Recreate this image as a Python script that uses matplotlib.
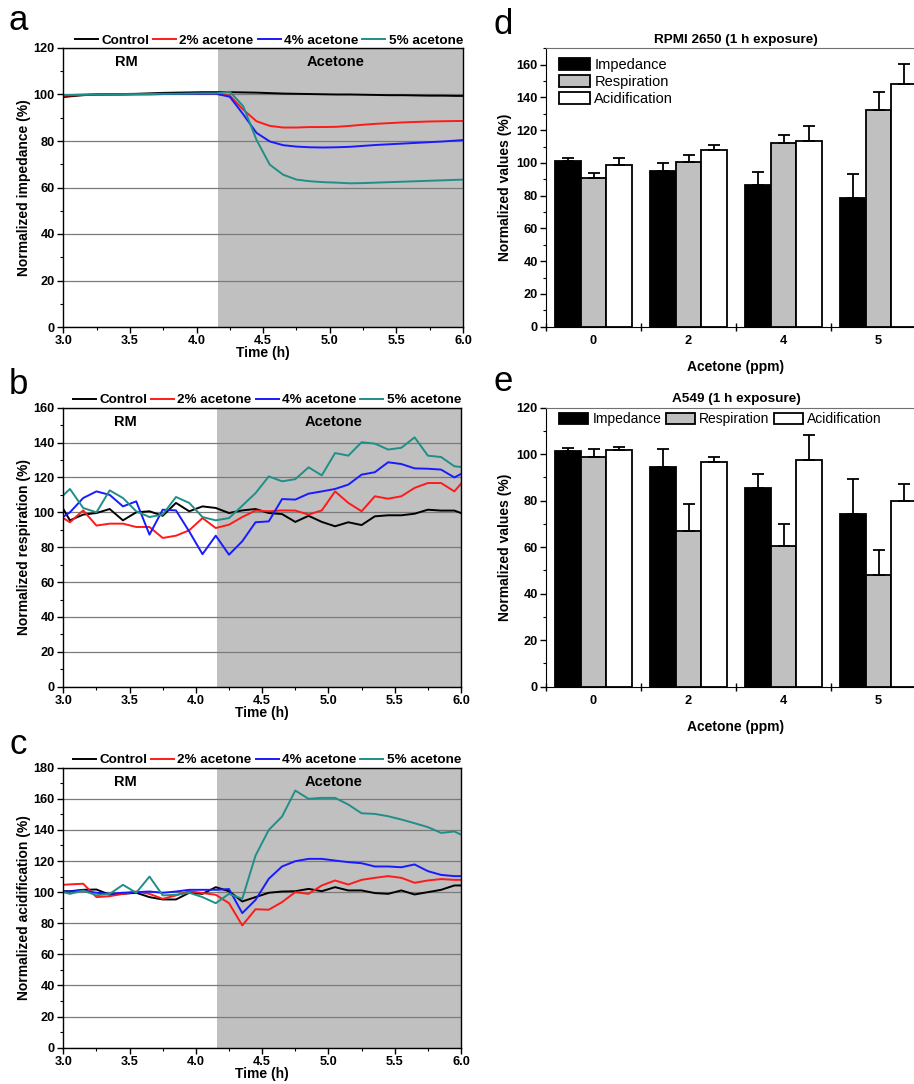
import numpy as np
import matplotlib
matplotlib.use('Agg')
import matplotlib.pyplot as plt
from matplotlib.ticker import MultipleLocator, FixedLocator

plt.rcParams['font.family'] = ['Liberation Sans', 'DejaVu Sans']

# sampling times (h)
t = [3.0, 3.05, 3.15, 3.25, 3.35, 3.45, 3.55, 3.65, 3.75, 3.85, 3.95, 4.05,
     4.15, 4.25, 4.35, 4.45, 4.55, 4.65, 4.75, 4.85, 4.95, 5.05, 5.15, 5.25,
     5.35, 5.45, 5.55, 5.65, 5.75, 5.85, 5.95, 6.0]

labels = ['Control', '2% acetone', '4% acetone', '5% acetone']
colors = ['black', '#ff1a1a', '#1a1aff', '#1f8f87']

imp_ctrl = [98.9, 99.2, 99.7, 100.0, 100.1, 100.2, 100.3, 100.5, 100.7, 100.8, 100.9, 101.0,
            101.0, 101.0, 100.9, 100.8, 100.6, 100.4, 100.3, 100.2, 100.1, 100.0, 100.0, 99.9,
            99.8, 99.7, 99.7, 99.6, 99.5, 99.5, 99.4, 99.4]
imp_2 = [99.5, 99.6, 99.8, 100.0, 100.0, 100.0, 100.1, 100.1, 100.2, 100.2, 100.2, 100.2,
         100.2, 99.5, 93.5, 88.5, 86.5, 85.8, 85.8, 86.0, 86.0, 86.1, 86.5, 87.0,
         87.4, 87.7, 88.0, 88.2, 88.4, 88.5, 88.6, 88.6]
imp_4 = [99.8, 99.8, 99.9, 100.0, 100.0, 100.0, 100.1, 100.1, 100.2, 100.2, 100.3, 100.3,
         100.3, 99.0, 91.5, 83.5, 79.8, 78.2, 77.6, 77.3, 77.2, 77.3, 77.5, 77.9,
         78.3, 78.6, 78.9, 79.2, 79.5, 79.8, 80.2, 80.4]
imp_5 = [99.8, 99.8, 99.9, 100.0, 100.0, 100.1, 100.1, 100.2, 100.3, 100.3, 100.4, 100.5,
         100.5, 101.2, 95.0, 80.5, 69.8, 65.5, 63.4, 62.7, 62.3, 62.1, 61.8, 61.9,
         62.1, 62.3, 62.5, 62.7, 62.9, 63.1, 63.3, 63.4]

resp_ctrl = [101.9, 95.4, 98.7, 99.6, 101.9, 95.4, 100.0, 100.6, 98.0, 105.4, 100.6, 103.4,
             102.5, 99.6, 101.1, 101.9, 99.6, 99.0, 94.5, 98.0, 94.5, 92.0, 94.3, 92.7,
             97.7, 98.3, 98.3, 99.2, 101.5, 101.0, 101.0, 99.6]
resp_2 = [96.7, 94.3, 101.1, 92.4, 93.5, 93.5, 91.6, 91.6, 85.3, 86.6, 89.7, 96.7,
          91.0, 92.9, 97.3, 101.0, 100.6, 101.1, 101.0, 98.7, 101.1, 112.0, 105.4, 100.6,
          109.2, 107.8, 109.2, 114.0, 116.8, 116.8, 112.0, 116.4]
resp_4 = [97.5, 100.0, 108.2, 112.0, 110.0, 103.4, 106.3, 87.2, 101.5, 101.1, 89.0, 76.0,
          86.6, 75.7, 83.4, 94.3, 94.8, 107.6, 107.3, 110.7, 112.0, 113.4, 115.9, 121.6,
          123.0, 128.7, 127.7, 125.2, 125.0, 124.5, 120.0, 122.0]
resp_5 = [109.8, 113.4, 102.5, 100.0, 112.6, 108.2, 100.6, 97.3, 98.7, 108.8, 105.4, 97.3,
          95.4, 96.7, 103.8, 111.0, 120.6, 117.8, 119.0, 125.8, 121.2, 134.0, 132.5, 140.2,
          139.4, 136.0, 137.0, 143.0, 132.5, 131.7, 126.4, 126.0]

acid_ctrl = [100.6, 100.6, 101.5, 101.7, 98.3, 98.9, 99.6, 96.8, 95.3, 95.3, 99.6, 98.9,
             103.2, 100.6, 94.0, 96.8, 99.6, 100.4, 100.6, 102.1, 100.6, 103.2, 101.1, 101.1,
             99.4, 98.9, 101.1, 98.5, 100.0, 101.5, 104.3, 104.3]
acid_2 = [104.7, 105.0, 105.4, 96.8, 97.4, 98.9, 100.4, 98.9, 95.7, 97.9, 100.6, 99.4,
          98.3, 92.9, 78.6, 89.0, 88.7, 93.6, 100.0, 98.9, 104.3, 107.5, 104.9, 107.9,
          109.2, 110.3, 109.2, 106.0, 107.5, 108.4, 107.9, 107.9]
acid_4 = [100.4, 100.5, 101.0, 99.6, 98.9, 99.6, 100.0, 100.4, 99.6, 100.4, 101.5, 101.5,
          101.5, 102.0, 86.5, 95.0, 108.6, 116.5, 119.9, 121.4, 121.4, 120.3, 119.3, 118.6,
          116.5, 116.5, 116.0, 117.8, 113.5, 111.1, 110.3, 110.3]
acid_5 = [100.0, 98.9, 101.0, 98.0, 98.9, 104.7, 99.6, 110.0, 97.9, 98.3, 99.6, 96.8,
          92.9, 98.9, 95.7, 123.5, 140.0, 148.6, 165.3, 160.0, 160.6, 160.6, 156.3, 150.7,
          150.3, 148.8, 146.7, 144.3, 141.8, 138.1, 139.0, 137.0]

# bar charts
groups = ['0', '2', '4', '5']
bar_names = ['Impedance', 'Respiration', 'Acidification']
bar_colors = ['black', '#c0c0c0', 'white']

d_imp = [101.4, 95.3, 86.4, 78.7]
d_imp_err = [1.4, 4.5, 8.3, 14.8]
d_resp = [91.0, 100.8, 112.2, 132.3]
d_resp_err = [3.1, 3.9, 4.7, 11.2]
d_acid = [98.8, 107.7, 113.6, 148.2]
d_acid_err = [4.5, 3.1, 8.8, 12.4]

e_imp = [101.4, 94.5, 85.6, 74.1]
e_imp_err = [1.4, 7.6, 6.0, 15.4]
e_resp = [98.8, 67.1, 60.5, 48.0]
e_resp_err = [3.6, 11.3, 9.5, 10.6]
e_acid = [101.6, 96.8, 97.5, 79.9]
e_acid_err = [1.5, 1.8, 10.7, 7.3]

W, H = 914, 1084
fig = plt.figure(figsize=(W / 100, H / 100), dpi=100)


def px_axes(left, top, right, bottom):
    return fig.add_axes([left / W, 1 - bottom / H, (right - left) / W, (bottom - top) / H])


def bold_ticks(ax):
    for lab in ax.get_xticklabels(which='both') + ax.get_yticklabels():
        lab.set_fontweight('bold')
        lab.set_fontsize(9.2)


def time_panel(ax, series, ymax, ylabel):
    ax.axvspan(4.16, 6.0, color='#c0c0c0', lw=0, zorder=0)
    for s, c, lab in zip(series, colors, labels):
        ax.plot(t, s, color=c, lw=1.4, label=lab)
    ax.set_xlim(3.0, 6.0)
    ax.set_ylim(0, ymax)
    ax.xaxis.set_major_locator(MultipleLocator(0.5))
    ax.xaxis.set_minor_locator(MultipleLocator(0.25))
    ax.yaxis.set_major_locator(MultipleLocator(20))
    ax.yaxis.set_minor_locator(MultipleLocator(10))
    ax.xaxis.set_major_formatter(matplotlib.ticker.FormatStrFormatter('%.1f'))
    ax.tick_params(which='major', direction='out', length=4, width=1, pad=2)
    ax.tick_params(which='minor', direction='out', length=2, width=0.8)
    ax.yaxis.grid(True, color='#7a7a7a', lw=0.9)
    for sp in ax.spines.values():
        sp.set_linewidth(1)
    ax.text(0.157, 0.95, 'RM', transform=ax.transAxes, ha='center', va='center',
            fontsize=10.5, fontweight='bold')
    ax.text(0.68, 0.95, 'Acetone', transform=ax.transAxes, ha='center', va='center',
            fontsize=10.5, fontweight='bold')
    ax.set_xlabel('Time (h)', fontsize=10, fontweight='bold', labelpad=-1)
    ax.set_ylabel(ylabel, fontsize=10, fontweight='bold', labelpad=2)
    ax.legend(loc='lower right', bbox_to_anchor=(1.0, 1.005), ncol=4, frameon=False,
              borderaxespad=0, borderpad=0, handlelength=1.7, handletextpad=0.25,
              columnspacing=0.3, prop={'size': 9.7, 'weight': 'bold'})
    bold_ticks(ax)


ax_a = px_axes(63.3, 48, 463, 327)
time_panel(ax_a, [imp_ctrl, imp_2, imp_4, imp_5], 120, 'Normalized impedance (%)')
ax_b = px_axes(63.3, 407.7, 461, 686.7)
time_panel(ax_b, [resp_ctrl, resp_2, resp_4, resp_5], 160, 'Normalized respiration (%)')
ax_c = px_axes(63.3, 767.7, 461, 1047.7)
time_panel(ax_c, [acid_ctrl, acid_2, acid_4, acid_5], 180, 'Normalized acidification (%)')


def bar_panel(ax, vals, errs, ymax, title, legend_kw):
    x = np.arange(len(groups))
    w = 0.27
    for i, (v, e, c, n) in enumerate(zip(vals, errs, bar_colors, bar_names)):
        xs = x + (i - 1) * w
        ax.bar(xs, v, w, color=c, edgecolor='black', lw=1.3, label=n, zorder=2)
        ax.errorbar(xs, v, yerr=[np.zeros(len(e)), e], fmt='none', ecolor='black',
                    elinewidth=1.3, capsize=4, capthick=1.3, zorder=3)
    ax.set_xlim(-0.5, 3.5)
    ax.set_ylim(0, ymax)
    ax.xaxis.set_major_locator(FixedLocator([-0.5, 0.5, 1.5, 2.5]))
    ax.xaxis.set_major_formatter(matplotlib.ticker.NullFormatter())
    ax.set_xticks(x, groups, minor=True)
    ax.tick_params(axis='x', which='minor', length=0, pad=6)
    ax.tick_params(axis='x', which='major', direction='inout', length=6, width=1)
    ax.yaxis.set_major_locator(MultipleLocator(20))
    ax.yaxis.set_minor_locator(MultipleLocator(10))
    ax.tick_params(axis='y', which='major', direction='out', length=4, width=1, pad=2)
    ax.tick_params(axis='y', which='minor', direction='out', length=2, width=0.8)
    ax.spines['top'].set_color('#707070')
    ax.set_title(title, fontsize=9.7, fontweight='bold', pad=4)
    ax.set_xlabel('Acetone (ppm)', fontsize=10, fontweight='bold', labelpad=9)
    ax.set_ylabel('Normalized values (%)', fontsize=10, fontweight='bold', labelpad=3)
    ax.legend(frameon=False, borderaxespad=0, borderpad=0, handlelength=2.1,
              handleheight=0.85, handletextpad=0.3, **legend_kw)
    bold_ticks(ax)


ax_d = px_axes(546, 48.3, 926, 326.7)
bar_panel(ax_d, [d_imp, d_resp, d_acid], [d_imp_err, d_resp_err, d_acid_err], 170,
          'RPMI 2650 (1 h exposure)',
          dict(loc='upper left', bbox_to_anchor=(0.035, 0.965), ncol=1, labelspacing=0.2,
               prop={'size': 10.5}))
ax_e = px_axes(546, 407.7, 926, 686.7)
bar_panel(ax_e, [e_imp, e_resp, e_acid], [e_imp_err, e_resp_err, e_acid_err], 120,
          'A549 (1 h exposure)',
          dict(loc='upper left', bbox_to_anchor=(0.035, 0.985), ncol=3, columnspacing=0.3,
               prop={'size': 10}))

# panel letters
for lab, x, y in [('a', 18, 21), ('b', 18, 385), ('c', 18, 744), ('d', 503, 24), ('e', 503, 381)]:
    fig.text(x / W, 1 - y / H, lab, fontsize=25, ha='center', va='center')

fig.savefig('out.png', dpi=100)
